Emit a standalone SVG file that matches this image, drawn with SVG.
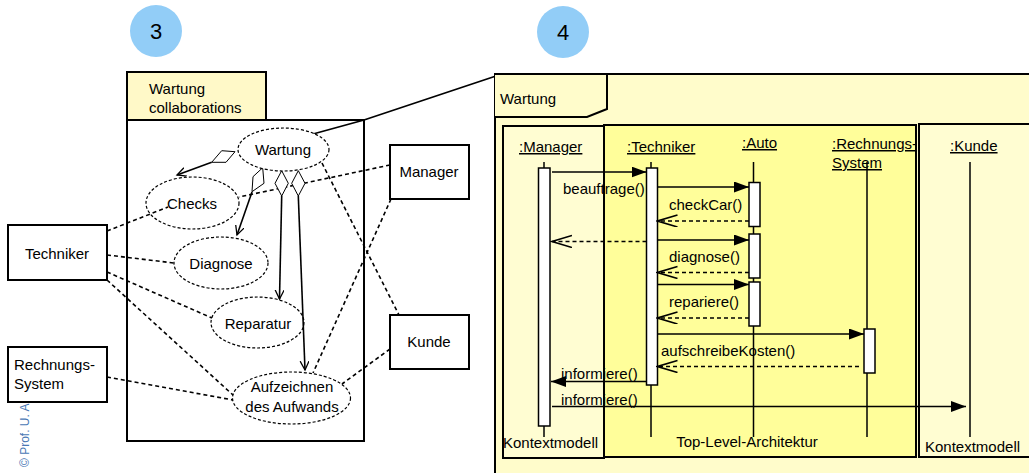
<svg xmlns="http://www.w3.org/2000/svg" width="1029" height="473" viewBox="0 0 1029 473">
<style>
text{font-family:"Liberation Sans",Arial,sans-serif;font-size:15px;fill:#000}
.box{fill:#fff;stroke:#000;stroke-width:2}
.uc{fill:#fff;stroke:#000;stroke-width:1.2;stroke-dasharray:3,2}
.assoc{fill:none;stroke:#000;stroke-width:1.6;stroke-dasharray:4,3}
.agg{fill:none;stroke:#000;stroke-width:1.6}
.dia{fill:#fff;stroke:#000;stroke-width:1}
.life{fill:none;stroke:#000;stroke-width:1.5}
.bar{fill:#fff;stroke:#000;stroke-width:1.5}
.msg{fill:none;stroke:#000;stroke-width:1.5;marker-end:url(#filled)}
.ret{fill:none;stroke:#000;stroke-width:1.5;stroke-dasharray:4,3;marker-end:url(#open)}
.frame{stroke:#000;stroke-width:2}
.num{font-size:22px;text-anchor:middle}
.c{text-anchor:middle}
.u{text-decoration:underline}
</style>
<defs>
<marker id="filled" markerUnits="userSpaceOnUse" markerWidth="16" markerHeight="12" refX="15" refY="5.5" orient="auto"><path d="M0,0 L15,5.5 L0,11 z" fill="#000"/></marker>
<marker id="open" markerUnits="userSpaceOnUse" markerWidth="22" markerHeight="14" refX="20" refY="6" orient="auto"><path d="M0,0 L20,6 L0,12" fill="none" stroke="#000" stroke-width="1.6"/></marker>
<marker id="vsmall" markerUnits="userSpaceOnUse" markerWidth="12" markerHeight="10" refX="9" refY="4.5" orient="auto"><path d="M0,0 L9,4.5 L0,9" fill="none" stroke="#000" stroke-width="1.3"/></marker>
</defs>
<rect width="1029" height="473" fill="#fff"/>

<!-- watermark -->
<text x="29" y="467" transform="rotate(-90 29 467)" style="font-size:12px;fill:#4A78B5">© Prof. U. Aßmann</text>

<!-- step circles -->
<g id="step3"><circle cx="156" cy="31" r="26" fill="#92CDF7"/><text class="num" x="156" y="39">3</text></g>
<g id="step4"><circle cx="563" cy="32" r="26" fill="#92CDF7"/><text class="num" x="563" y="40">4</text></g>

<!-- Package Wartung collaborations -->
<g id="package">
<rect x="127" y="72" width="139" height="48" fill="#FFF9C8" stroke="#000" stroke-width="2"/>
<rect x="127" y="120" width="237" height="321" fill="#fff" stroke="#000" stroke-width="2"/>
<text x="149" y="94">Wartung</text>
<text x="149" y="113">collaborations</text>
</g>

<!-- connectors (left) -->
<g id="connectors-left">
<line class="assoc" x1="107" y1="231" x2="168" y2="207"/>
<line class="assoc" x1="107" y1="255" x2="174" y2="263"/>
<line class="assoc" x1="107" y1="272" x2="212" y2="318"/>
<line class="assoc" x1="107" y1="280" x2="233" y2="395"/>
<line class="assoc" x1="107" y1="377" x2="233" y2="400"/>
<line class="assoc" x1="390" y1="165" x2="239" y2="197"/>
<line class="assoc" x1="391" y1="199" x2="313" y2="373"/>
<line class="assoc" x1="322" y1="163" x2="399" y2="315"/>
<line class="assoc" x1="390" y1="349" x2="342" y2="384"/>
<polyline points="313,134 364,120 496,76" fill="none" stroke="#000" stroke-width="1.8"/>
<line class="agg" x1="211.7" y1="162.3" x2="177" y2="175" marker-end="url(#vsmall)"/>
<line class="agg" x1="252" y1="192" x2="237" y2="235" marker-end="url(#vsmall)"/>
<line class="agg" x1="281.7" y1="196" x2="279.5" y2="299" marker-end="url(#vsmall)"/>
<line class="agg" x1="298.3" y1="196" x2="305" y2="370" marker-end="url(#vsmall)"/>
<polygon class="dia" points="235,151.7 221.7,150.7 211.7,162.3 226,162.3"/>
<polygon class="dia" points="262.7,167.7 253,176.7 252,191.7 264,183.3"/>
<polygon class="dia" points="281.7,170.7 288.3,183.3 281.7,196 275,183.3"/>
<polygon class="dia" points="298.3,170.7 305,183.3 298.3,196 291.7,183.3"/>
</g>

<!-- use cases -->
<g id="uc-wartung"><ellipse class="uc" cx="283.5" cy="149.5" rx="45.5" ry="21.5"/><text class="c" x="283" y="155">Wartung</text></g>
<g id="uc-checks"><ellipse class="uc" cx="192.5" cy="203" rx="46.5" ry="26" style="fill:none"/><text class="c" x="192" y="209">Checks</text></g>
<g id="uc-diagnose"><ellipse class="uc" cx="221" cy="263" rx="47" ry="26"/><text class="c" x="221" y="269">Diagnose</text></g>
<g id="uc-reparatur"><ellipse class="uc" cx="257.5" cy="322.5" rx="46.5" ry="25.5" style="fill:none"/><text class="c" x="258" y="329">Reparatur</text></g>
<g id="uc-aufzeichnen"><ellipse class="uc" cx="291.5" cy="398" rx="59" ry="26" style="fill:none"/><text class="c" x="292" y="392">Aufzeichnen</text><text class="c" x="292" y="412">des Aufwands</text></g>

<!-- actors -->
<g id="actor-techniker"><rect class="box" x="8" y="225" width="99" height="55"/><text class="c" x="57" y="259">Techniker</text></g>
<g id="actor-rechnung"><rect class="box" x="8" y="347" width="99" height="55"/><text x="14" y="370">Rechnungs-</text><text x="14" y="389">System</text></g>
<g id="actor-manager"><rect class="box" x="390" y="145" width="79" height="54"/><text class="c" x="429" y="177">Manager</text></g>
<g id="actor-kunde"><rect class="box" x="390" y="315" width="79" height="54"/><text class="c" x="429" y="347">Kunde</text></g>

<!-- Sequence frame -->
<g id="seq-frame">
<rect x="495" y="74" width="540" height="405" fill="#FFFCCB" class="frame"/>
<path d="M495,74 L607,74 L607,109 L587,117 L495,117" fill="#FFFCCB" stroke="#000" stroke-width="2"/>
<text x="500" y="104">Wartung</text>
</g>
<g id="ctx-manager"><rect x="503" y="126" width="101" height="332" fill="#FFFDD2" class="frame"/><text x="503" y="448">Kontextmodell</text></g>
<g id="top-level"><rect x="604" y="125" width="312" height="332" fill="#FFFE9A" class="frame"/><text class="c" x="747" y="447">Top-Level-Architektur</text></g>
<g id="ctx-kunde"><rect x="919" y="124" width="120" height="333" fill="#FFFDD2" class="frame"/><text x="925" y="452">Kontextmodell</text></g>

<!-- lifelines -->
<g id="ll-manager"><text class="u" x="519" y="152">:Manager</text><line class="life" x1="544" y1="162" x2="544" y2="437"/><rect class="bar" x="538.5" y="168" width="11.5" height="258"/></g>
<g id="ll-techniker"><text class="u" x="627" y="152">:Techniker</text><line class="life" x1="651" y1="162" x2="651" y2="437"/><rect class="bar" x="646.5" y="168" width="11" height="217"/></g>
<g id="ll-auto"><text class="u" x="742" y="148">:Auto</text><line class="life" x1="753.5" y1="162" x2="753.5" y2="437"/><rect class="bar" x="749" y="182.5" width="11" height="44"/><rect class="bar" x="749" y="234" width="11" height="44"/><rect class="bar" x="749" y="282" width="11" height="44"/></g>
<g id="ll-rechnung"><text class="u" x="832" y="149">:Rechnungs-</text><text class="u" x="832" y="168">System</text><line class="life" x1="867" y1="162" x2="867" y2="437"/><rect class="bar" x="864" y="329" width="11" height="44"/></g>
<g id="ll-kunde"><text class="u" x="950" y="151">:Kunde</text><line class="life" x1="970" y1="162" x2="970" y2="437"/></g>

<!-- messages -->
<g id="messages">
<line class="msg" x1="552" y1="172" x2="646.5" y2="172"/>
<text x="563" y="194">beauftrage()</text>
<line class="msg" x1="657.5" y1="187" x2="749" y2="187"/>
<text x="669" y="210">checkCar()</text>
<line class="ret" x1="749" y1="221" x2="657.5" y2="221"/>
<line class="ret" x1="646.5" y1="241.5" x2="552" y2="241.5"/>
<line class="msg" x1="657.5" y1="240" x2="749" y2="240"/>
<text x="669" y="262">diagnose()</text>
<line class="ret" x1="749" y1="272.5" x2="657.5" y2="272.5"/>
<line class="msg" x1="657.5" y1="284.5" x2="749" y2="284.5"/>
<text x="669" y="307">repariere()</text>
<line class="ret" x1="749" y1="318" x2="657.5" y2="318"/>
<line class="msg" x1="657.5" y1="334" x2="864" y2="334"/>
<text x="661" y="356">aufschreibeKosten()</text>
<line class="ret" x1="859" y1="366.5" x2="657.5" y2="366.5"/>
<line class="msg" x1="646.5" y1="381.5" x2="551" y2="381.5"/>
<text x="561" y="379">informiere()</text>
<line class="msg" x1="552" y1="406.5" x2="966" y2="406.5"/>
<text x="561" y="405">informiere()</text>
</g>
</svg>
